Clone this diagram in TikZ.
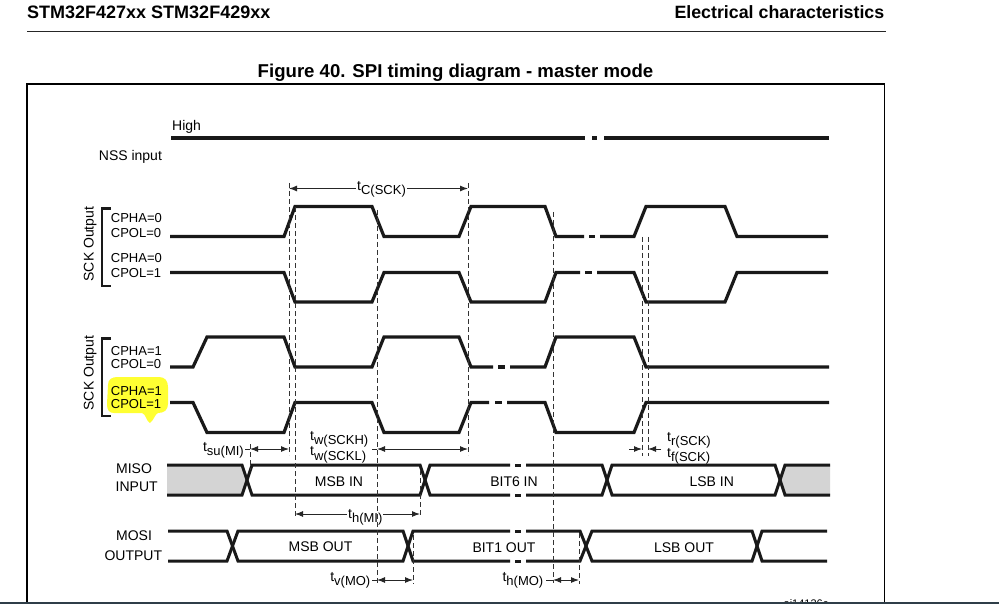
\documentclass[tikz,border=0pt]{standalone}
\usepackage{fontspec}
\setmainfont{Liberation Sans}
\usetikzlibrary{arrows.meta}
\newcommand{\fsz}[1]{\fontsize{#1}{#1}\selectfont}
\newcommand{\tlab}[1]{t\raisebox{-4.5pt}{\fsz{13}#1}}
\definecolor{barc}{RGB}{47,62,72}
\definecolor{lightgrayfill}{RGB}{212,212,212}
\definecolor{hl}{RGB}{255,255,50}
\begin{document}
\begin{tikzpicture}[x=1pt,y=-1pt,
  wave/.style={line width=3.2pt, line join=miter, black!90},
  bus/.style={line width=3pt, line join=miter, black!90},
  guide/.style={line width=1pt, dash pattern=on 5pt off 3pt, black!80},
  dim/.style={line width=1pt, black!85, {Latex[length=8pt,width=6pt]}-{Latex[length=8pt,width=6pt]}},
  dimr/.style={line width=1pt, black!85, -{Latex[length=8pt,width=6pt]}},
  stub/.style={line width=1pt, black!85},
  lab/.style={font={\fsz{14}}, inner sep=0pt},
  cp/.style={font={\fsz{13}}, inner sep=0pt, anchor=base west},
  bracket/.style={line width=2.5pt, black!90},
  ]
\useasboundingbox (0,0) rectangle (999,604);
\fill[white] (0,0) rectangle (999,604);

% header
\node[font={\fsz{18}\bfseries}, anchor=base west, inner sep=0pt] (hdl) at (27,18.5) {STM32F427xx STM32F429xx};
\node[font={\fsz{17.8}\bfseries}, anchor=base east, inner sep=0pt] (hdr) at (884.5,18.5) {Electrical characteristics};
\draw[line width=1.2pt, black!85] (27,31.7) -- (886,31.7);
\node[font={\fsz{18.6}\bfseries}, anchor=base, inner sep=0pt] (title) at (455.5,78) {Figure 40. SPI timing diagram - master mode};

% frame
\draw[line width=1.3pt] (27,602) -- (27,84) -- (884.3,84) -- (884.3,602);

% NSS
\node[lab, anchor=base west] (high) at (172,131) {High};
\node[lab, anchor=base west] (nss) at (98.7,160.5) {NSS input};
\draw[wave] (171,138) -- (585,138);
\draw[wave] (592,138) -- (597,138);
\draw[wave] (604,138) -- (829,138);

% brackets and SCK labels
\draw[bracket] (110.5,208.3) -- (102,208.3) -- (102,286) -- (110.5,286);
\draw[bracket] (110.5,338.3) -- (102,338.3) -- (102,416) -- (110.5,416);
\node[lab, rotate=90, anchor=base] (sck1) at (93.5,244) {SCK Output};
\node[lab, rotate=90, anchor=base] (sck2) at (93.5,373) {SCK Output};

\fill[hl] (108,385) .. controls (108,379) and (112,377) .. (118,377) -- (159,377)
  .. controls (165,377) and (168,381) .. (168,387) -- (168,404)
  .. controls (168,410) and (164,413) .. (158,413)
  .. controls (155,414) and (154,420) .. (150,423)
  .. controls (146,421) and (146,414) .. (142,413) -- (114,413)
  .. controls (109,413) and (107,410) .. (107,404) -- cycle;

\node[cp] (c1a) at (110.7,223) {CPHA=0};
\node[cp] (c1b) at (110.7,237.5) {CPOL=0};
\node[cp] (c2a) at (110.7,262.5) {CPHA=0};
\node[cp] (c2b) at (110.7,277) {CPOL=1};
\node[cp] (c3a) at (110.7,355) {CPHA=1};
\node[cp] (c3b) at (110.7,368.5) {CPOL=0};
\node[cp] (c4a) at (110.7,395) {CPHA=1};
\node[cp] (c4b) at (110.7,408.5) {CPOL=1};

% Row 1: CPHA=0 CPOL=0
\draw[wave] (170,236.5) -- (284,236.5) -- (295,206.5) -- (372,206.5) -- (384,236.5) -- (459,236.5) -- (471,206.5) -- (545,206.5) -- (556,236.5) -- (584,236.5);
\draw[wave] (589,236.5) -- (595,236.5);
\draw[wave] (600,236.5) -- (634,236.5) -- (646,206.5) -- (725,206.5) -- (737,236.5) -- (828,236.5);

% Row 2: CPHA=0 CPOL=1
\draw[wave] (170,272.5) -- (284,272.5) -- (295,302) -- (372,302) -- (384,272.5) -- (459,272.5) -- (471,302) -- (545,302) -- (556,272.5) -- (580,272.5);
\draw[wave] (585,272.5) -- (592,272.5);
\draw[wave] (597,272.5) -- (634,272.5) -- (646,302) -- (725,302) -- (737,272.5) -- (828,272.5);

% Row 3: CPHA=1 CPOL=0
\draw[wave] (170,367) -- (193,367) -- (207,337) -- (284,337) -- (295,367) -- (372,367) -- (384,337) -- (459,337) -- (471,367) -- (493,367);
\draw[wave] (498,367) -- (505,367);
\draw[wave] (510,367) -- (545,367) -- (556,337) -- (634,337) -- (646,367) -- (829,367);

% Row 4: CPHA=1 CPOL=1
\draw[wave] (170,402.5) -- (193,402.5) -- (207,432.5) -- (284,432.5) -- (295,402.5) -- (372,402.5) -- (384,432.5) -- (459,432.5) -- (471,402.5) -- (489,402.5);
\draw[wave] (495,402.5) -- (502,402.5);
\draw[wave] (507,402.5) -- (545,402.5) -- (556,432.5) -- (634,432.5) -- (646,402.5) -- (829,402.5);

% MISO bus
\node[lab, anchor=base] (miso1) at (134,473.3) {MISO};
\node[lab, anchor=base] (miso2) at (136.7,491.7) {INPUT};
\fill[lightgrayfill] (167,465) -- (242,465) -- (247,480) -- (242,495) -- (167,495) -- cycle;
\fill[lightgrayfill] (780,480) -- (785,465) -- (830,465) -- (830,495) -- (785,495) -- cycle;
\draw[bus] (167,465) -- (242,465) -- (252,495) -- (420,495) -- (430,465) -- (510,465);
\draw[bus] (515,465) -- (521,465);
\draw[bus] (526,465) -- (602,465) -- (612,495) -- (775,495) -- (785,465) -- (830,465);
\draw[bus] (167,495) -- (242,495) -- (252,465) -- (420,465) -- (430,495) -- (510,495);
\draw[bus] (515,495) -- (521,495);
\draw[bus] (526,495) -- (602,495) -- (612,465) -- (775,465) -- (785,495) -- (830,495);
\node[lab, anchor=base] (msbin) at (339,486.7) {MSB IN};
\node[lab, anchor=base] (bit6) at (514,486) {BIT6 IN};
\node[lab, anchor=base] (lsbin) at (711.7,486) {LSB IN};

% MOSI bus
\node[lab, anchor=base] (mosi1) at (134,540.7) {MOSI};
\node[lab, anchor=base] (mosi2) at (133.3,560) {OUTPUT};
\draw[bus] (168,531) -- (227,531) -- (238,561) -- (403,561) -- (413,531) -- (510,531);
\draw[bus] (515,531) -- (521,531);
\draw[bus] (526,531) -- (580,531) -- (592,561) -- (752,561) -- (762,531) -- (827,531);
\draw[bus] (168,561) -- (227,561) -- (238,531) -- (403,531) -- (413,561) -- (510,561);
\draw[bus] (515,561) -- (521,561);
\draw[bus] (526,561) -- (580,561) -- (592,531) -- (752,531) -- (762,561) -- (827,561);
\node[lab, anchor=base] (msbout) at (320.5,551.7) {MSB OUT};
\node[lab, anchor=base] (bit1) at (504,552) {BIT1 OUT};
\node[lab, anchor=base] (lsbout) at (684,552) {LSB OUT};

% dimension arrows
\coordinate (tcA) at (289,188.5); \coordinate (tcB) at (468,188.5);
\draw[dim] (tcA) -- (tcB);
\node[lab, anchor=base west, fill=white, inner xsep=1pt] (tc) at (356,190.5) {\tlab{C(SCK)}};

\coordinate (suA) at (250,449); \coordinate (suB) at (289,449);
\draw[stub] (245,449) -- (suA);
\draw[dim] (suA) -- (suB);
\node[lab, anchor=base east] (tsu) at (244,451) {\tlab{su(MI)}};

\coordinate (twA) at (377,449); \coordinate (twB) at (468,449);
\draw[stub] (372,449) -- (twA);
\draw[dim] (twA) -- (twB);
\node[lab, anchor=base west] (twh) at (310,440) {\tlab{w(SCKH)}};
\node[lab, anchor=base west] (twl) at (310,455.5) {\tlab{w(SCKL)}};

\coordinate (trA) at (642,449); \coordinate (trB) at (648,449);
\draw[dimr] (629,449) -- (trA);
\draw[dimr] (661,449) -- (trB);
\node[lab, anchor=base west] (tr) at (667,441) {\tlab{r(SCK)}};
\node[lab, anchor=base west] (tf) at (667,457) {\tlab{f(SCK)}};

\coordinate (hmA) at (295,514); \coordinate (hmB) at (420,514);
\draw[dim] (hmA) -- (hmB);
\node[lab, anchor=base west, fill=white, inner xsep=1pt] (thmi) at (347,518) {\tlab{h(MI)}};

\coordinate (tvA) at (377,580); \coordinate (tvB) at (413,580);
\draw[stub] (372,580) -- (tvA);
\draw[dim] (tvA) -- (tvB);
\node[lab, anchor=base east] (tv) at (370.5,581) {\tlab{v(MO)}};

\coordinate (thoA) at (553,580); \coordinate (thoB) at (579,580);
\draw[stub] (546,580) -- (thoA);
\draw[dim] (thoA) -- (thoB);
\node[lab, anchor=base east] (tho) at (543.5,581) {\tlab{h(MO)}};

% dashed guides
\draw[guide] (289,183) -- (289,455);
\draw[guide] (295,207) -- (295,517);
\draw[guide] (377,210) -- (377,583);
\draw[guide] (468,183) -- (468,455);
\draw[guide] (553,212) -- (553,583);
\draw[guide] (642,237) -- (642,456);
\draw[guide] (648,237) -- (648,456);
\draw[guide] (250,444) -- (250,470);
\draw[guide] (420,470) -- (420,517);
\draw[guide] (413,535) -- (413,584);
\draw[guide] (579,533) -- (579,584);

% figure id and bottom bar
\node[font={\fsz{11}}, anchor=north, inner sep=0pt] (aid) at (806,599.8) {ai14136c};
\fill[barc] (0,602) rectangle (999,604);
\end{tikzpicture}
\end{document}
